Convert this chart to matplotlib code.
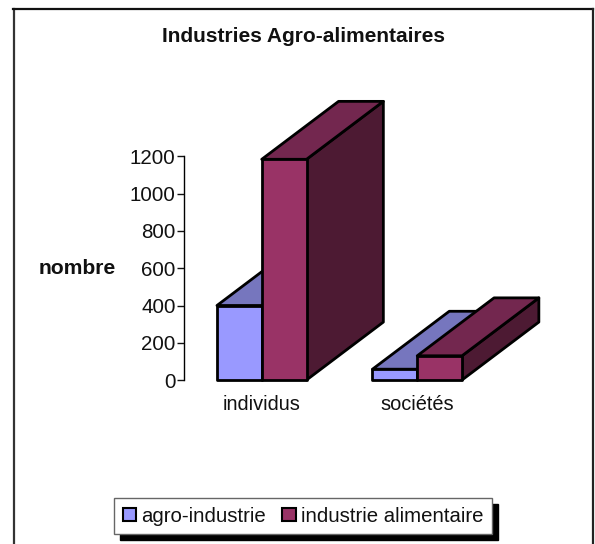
import matplotlib
matplotlib.use('Agg')
import matplotlib.pyplot as plt
from matplotlib.lines import Line2D
from matplotlib.patches import Patch, Polygon, Rectangle

# Data
categories = ['individus', 'sociétés']
series_names = ['agro-industrie', 'industrie alimentaire']
agro = [400, 58]
alimentaire = [1185, 130]
y_ticks = [0, 200, 400, 600, 800, 1000, 1200]

W, H = 595, 544
plt.rcParams['font.family'] = ['Liberation Sans', 'DejaVu Sans']

fig = plt.figure(figsize=(W / 100, H / 100), dpi=100)

# axes placed in pixels: x band 184-495, y from 380 (0) to 156.5 (1200)
ax = fig.add_axes([184 / W, 1 - 380 / H, 311 / W, 223.5 / H])
ax.set_xlim(-0.5, 1.5)
ax.set_ylim(0, 1200)
ax.patch.set_alpha(0)

bar_w = 0.288
depth_x = 0.494  # 3d offset in category units
depth_y = 311    # 3d offset in value units


def bar3d(x0, x1, h, front, top, side):
    dx, dy = depth_x, depth_y
    kw = dict(edgecolor='black', linewidth=2, joinstyle='round', clip_on=False)
    ax.add_patch(Polygon([(x1, 0), (x1 + dx, dy), (x1 + dx, h + dy), (x1, h)], facecolor=side, **kw))
    ax.add_patch(Polygon([(x0, h), (x0 + dx, h + dy), (x1 + dx, h + dy), (x1, h)], facecolor=top, **kw))
    ax.add_patch(Rectangle((x0, 0), x1 - x0, h, facecolor=front, **kw))


for i in range(len(categories)):
    bar3d(i - bar_w, i, agro[i], '#9999FF', '#7676BE', '#4D4D80')
    bar3d(i, i + bar_w, alimentaire[i], '#993366', '#73274F', '#4D1A33')

ax.set_xticks(range(len(categories)))
ax.set_xticklabels(categories, fontsize=14.4)
ax.set_yticks(y_ticks)
ax.tick_params(axis='x', length=0, pad=11, colors='#111111')
ax.tick_params(axis='y', length=5, width=1, labelsize=14.8, pad=1, colors='#111111')
for s in ['top', 'right', 'bottom']:
    ax.spines[s].set_visible(False)
ax.spines['left'].set_linewidth(1)

fig.text(303 / W, 1 - 37 / H, 'Industries Agro-alimentaires', fontsize=15, fontweight='bold',
         ha='center', va='center', color='#111111')
fig.text(77.5 / W, 1 - 269 / H, 'nombre', fontsize=15.2, fontweight='bold',
         ha='center', va='center', color='#111111')

# outer frame, it runs off the bottom of the image
fig.add_artist(Line2D([13.5 / W, 13.5 / W], [0, 1 - 9 / H], color='#333333', lw=1.6))
fig.add_artist(Line2D([13 / W, 593 / W], [1 - 9 / H, 1 - 9 / H], color='#111111', lw=1.6))
fig.add_artist(Line2D([593 / W, 593 / W], [0, 1 - 9 / H], color='#222222', lw=1.6))

handles = [Patch(facecolor='#9999FF', edgecolor='black', linewidth=1.5),
           Patch(facecolor='#993366', edgecolor='black', linewidth=1.5)]
leg = fig.legend(handles, series_names, loc='center', bbox_to_anchor=(303 / W, 1 - 516 / H),
                 ncol=2, fontsize=14.7, fancybox=False, framealpha=1, edgecolor='#666666',
                 shadow={'ox': 4.3, 'oy': -4.5, 'color': 'black', 'alpha': 1, 'shade': 0},
                 handlelength=0.65, handleheight=0.65, handletextpad=0.25, columnspacing=0.8,
                 borderpad=0.42, borderaxespad=0, labelcolor='#111111')

fig.savefig('out.png', dpi=100)
